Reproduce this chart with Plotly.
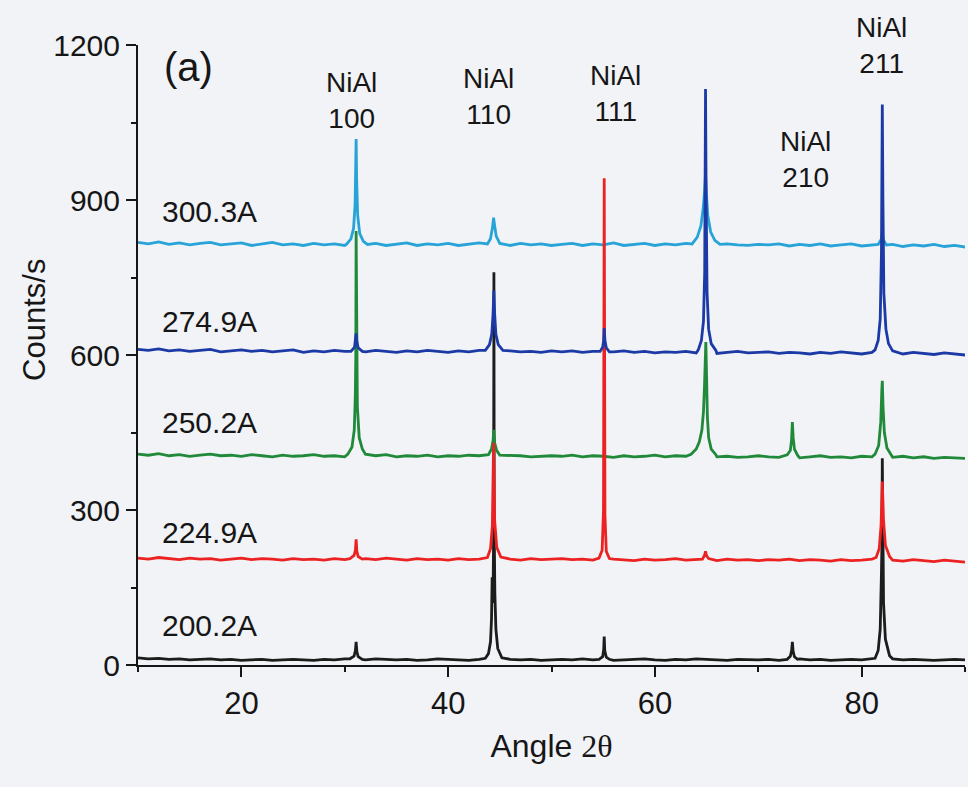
import plotly.graph_objects as go

# ---- data (2-theta angle in degrees, counts/s) ----
angles_base = list(range(10, 91))

black_base = [14, 12, 13, 11, 12, 10, 11, 12, 10, 11, 9, 10, 11, 9, 10, 11, 10, 9, 11, 10, 12,
              11, 10, 12, 11, 10, 11, 9, 10, 12, 11, 10, 9, 11, 10, 12, 11, 10, 11, 9, 10,
              11, 10, 12, 10, 11, 9, 10, 11, 12, 10, 9, 11, 10, 12, 11, 10, 9, 11, 10, 10,
              11, 9, 10, 12, 10, 11, 9, 10, 11, 10, 12, 11, 9, 10, 11, 10, 9, 10, 11, 10]
red_base = [207, 205, 208, 206, 204, 207, 205, 206, 203, 205, 207, 204, 206, 205, 203, 206, 204, 205, 203, 206, 204,
            205, 206, 204, 207, 205, 203, 206, 204, 205, 203, 206, 204, 205, 207, 204, 205, 203, 206, 204, 205,
            206, 204, 205, 203, 206, 205, 204, 202, 205, 203, 204, 206, 203, 205, 204, 202, 205, 203, 204, 202,
            204, 203, 205, 202, 204, 203, 201, 204, 202, 203, 205, 202, 203, 201, 204, 202, 200, 203, 201, 199]
green_base = [408, 406, 409, 405, 407, 404, 406, 408, 405, 406, 404, 407, 405, 403, 406, 404, 405, 407, 404, 405, 403,
              406, 404, 405, 407, 403, 405, 404, 406, 403, 405, 404, 406, 405, 403, 404, 406, 405, 403, 404, 405,
              404, 406, 403, 405, 404, 402, 405, 403, 404, 406, 403, 405, 404, 402, 405, 403, 404, 402, 403, 405,
              403, 402, 404, 401, 403, 405, 402, 403, 401, 404, 403, 401, 402, 404, 401, 403, 400, 402, 401, 400]
blue_base = [611, 609, 612, 608, 610, 607, 609, 611, 606, 608, 610, 607, 609, 606, 608, 610, 605, 608, 606, 609, 607,
             608, 606, 609, 607, 605, 608, 606, 609, 607, 605, 608, 606, 609, 607, 605, 608, 606, 607, 605, 608,
             606, 608, 605, 607, 604, 606, 608, 605, 607, 604, 606, 605, 607, 604, 606, 603, 605, 607, 604, 605,
             606, 603, 605, 604, 602, 605, 603, 606, 604, 602, 605, 603, 604, 602, 605, 603, 601, 604, 602, 600]
cyan_base = [818, 815, 819, 814, 817, 813, 816, 818, 813, 815, 817, 812, 815, 818, 813, 815, 812, 816, 813, 815, 812,
             815, 813, 816, 812, 814, 817, 812, 815, 813, 816, 812, 815, 817, 813, 814, 812, 816, 813, 815, 812,
             814, 816, 812, 815, 813, 817, 812, 814, 816, 812, 815, 813, 816, 812, 814, 811, 815, 813, 812, 814,
             813, 815, 811, 814, 812, 815, 811, 813, 815, 811, 813, 812, 814, 810, 813, 811, 814, 810, 812, 809]

black_peaks = [
    [(30.5, 12), (30.9, 17), (31.03, 28), (31.1, 45), (31.17, 26), (31.3, 16), (31.7, 11)],
    [(43.6, 13), (43.9, 22), (44.1, 45), (44.2, 90), (44.26, 170), (44.31, 120), (44.36, 160),
     (44.4, 250), (44.43, 760), (44.46, 260), (44.52, 140), (44.62, 70), (44.8, 32), (45.2, 14)],
    [(54.6, 11), (54.95, 16), (55.05, 30), (55.1, 55), (55.15, 28), (55.3, 15), (55.6, 11)],
    [(72.8, 11), (73.1, 17), (73.23, 28), (73.3, 45), (73.37, 27), (73.5, 16), (73.8, 11)],
    [(81.3, 13), (81.6, 28), (81.8, 70), (81.92, 180), (81.97, 240), (82.0, 400), (82.04, 235),
     (82.12, 120), (82.3, 50), (82.7, 18), (83.0, 12)],
]
red_peaks = [
    [(30.5, 206), (30.9, 212), (31.03, 222), (31.1, 243), (31.17, 220), (31.3, 210), (31.7, 205)],
    [(43.8, 208), (44.1, 225), (44.28, 270), (44.4, 430), (44.5, 280), (44.7, 228), (45.1, 209)],
    [(54.6, 207), (54.9, 222), (55.03, 300), (55.1, 942), (55.17, 290), (55.3, 220), (55.6, 206)],
    [(64.6, 205), (64.8, 212), (64.9, 220), (65.0, 211), (65.2, 206)],
    [(81.4, 208), (81.7, 225), (81.88, 270), (82.0, 355), (82.1, 285), (82.3, 232), (82.7, 210)],
]
green_peaks = [
    [(30.3, 408), (30.7, 422), (30.92, 455), (31.02, 520), (31.07, 600), (31.1, 840), (31.14, 610),
     (31.22, 500), (31.4, 440), (31.7, 418), (32.0, 408)],
    [(43.9, 407), (44.2, 418), (44.35, 435), (44.42, 455), (44.5, 430), (44.7, 415), (45.0, 406)],
    [(63.5, 408), (64.0, 418), (64.3, 432), (64.55, 455), (64.7, 490), (64.8, 540), (64.88, 600),
     (64.93, 625), (65.0, 560), (65.08, 480), (65.2, 440), (65.45, 418), (65.9, 407)],
    [(72.8, 407), (73.1, 415), (73.22, 435), (73.3, 470), (73.38, 440), (73.5, 418), (73.8, 406)],
    [(81.3, 408), (81.65, 425), (81.85, 470), (81.95, 530), (82.0, 550), (82.07, 500), (82.2, 450),
     (82.45, 420), (82.9, 406)],
]
blue_peaks = [
    [(30.6, 607), (30.95, 615), (31.05, 628), (31.1, 642), (31.17, 626), (31.3, 614), (31.7, 607)],
    [(43.6, 609), (44.0, 620), (44.22, 640), (44.35, 680), (44.42, 725), (44.5, 680), (44.62, 640),
     (44.85, 620), (45.3, 609)],
    [(54.7, 607), (54.95, 615), (55.05, 628), (55.1, 652), (55.17, 628), (55.3, 614), (55.6, 606)],
    [(64.2, 610), (64.5, 628), (64.7, 665), (64.82, 760), (64.9, 1115), (64.96, 900), (65.05, 720),
     (65.2, 650), (65.45, 622), (65.9, 609)],
    [(81.3, 610), (81.6, 628), (81.8, 670), (81.92, 800), (82.0, 1085), (82.06, 900), (82.15, 720),
     (82.35, 650), (82.6, 622), (83.0, 608)],
]
cyan_peaks = [
    [(30.2, 815), (30.6, 825), (30.85, 845), (31.0, 890), (31.07, 950), (31.1, 1018), (31.15, 940),
     (31.25, 870), (31.45, 835), (31.8, 820), (32.2, 814)],
    [(43.8, 815), (44.1, 825), (44.3, 848), (44.4, 866), (44.5, 850), (44.65, 830), (45.0, 816)],
    [(63.6, 815), (64.1, 828), (64.45, 850), (64.68, 885), (64.82, 920), (64.9, 950), (64.98, 915),
     (65.12, 870), (65.4, 838), (65.8, 822), (66.3, 814)],
    [(81.6, 814), (81.9, 824), (82.0, 836), (82.1, 823), (82.4, 813)],
]

series_names = ["300.3A", "274.9A", "250.2A", "224.9A", "200.2A"]
label_y = [877, 664, 470, 257, 77]
reflections = ["100", "110", "111", "200", "210", "211"]
refl_x = [30.7, 43.9, 56.2, 65.1, 74.6, 81.9]
refl_y = [1092, 1101, 1107, 1202, 979, 1200]


def build(base, peaks):
    pts = list(zip(angles_base, base))
    for pk in peaks:
        lo = min(p[0] for p in pk)
        hi = max(p[0] for p in pk)
        pts = [p for p in pts if not (lo <= p[0] <= hi)]
        pts += pk
    pts.sort()
    return [p[0] for p in pts], [p[1] for p in pts]


series = {
    "300.3A": (cyan_base, cyan_peaks, "#27a3d8"),
    "274.9A": (blue_base, blue_peaks, "#1b3aa6"),
    "250.2A": (green_base, green_peaks, "#20893a"),
    "224.9A": (red_base, red_peaks, "#ec2222"),
    "200.2A": (black_base, black_peaks, "#1c1c1c"),
}
draw_order = ["300.3A", "200.2A", "250.2A", "224.9A", "274.9A"]

fig = go.Figure()
for name in draw_order:
    base, peaks, col = series[name]
    xs, ys = build(base, peaks)
    fig.add_trace(go.Scatter(x=xs, y=ys, mode="lines", name=name,
                             line=dict(color=col, width=2.8), hoverinfo="skip"))

font_main = "Liberation Sans, Arial, sans-serif"
ink = "#161616"
bg = "#f2f3f6"

for name, y in zip(series_names, label_y):
    fig.add_annotation(x=12.1, y=y, text=name, showarrow=False, xanchor="left", yanchor="middle",
                       font=dict(family=font_main, size=30, color=ink))
for r, x, y in zip(reflections, refl_x, refl_y):
    fig.add_annotation(x=x, y=y, text="NiAl<br>" + r, showarrow=False, xanchor="center", yanchor="middle",
                       font=dict(family=font_main, size=28, color=ink))
fig.add_annotation(x=14.9, y=1158, text="(a)", showarrow=False, xanchor="center", yanchor="middle",
                   font=dict(family=font_main, size=40, color=ink))
fig.add_annotation(x=-0.1245, xref="paper", y=668, yref="y", text="Counts/s", textangle=-90,
                   showarrow=False, xanchor="center", yanchor="middle",
                   font=dict(family=font_main, size=31, color=ink))

fig.update_layout(
    width=968, height=787,
    margin=dict(l=138, r=3, t=45, b=122),
    paper_bgcolor=bg, plot_bgcolor=bg,
    showlegend=False,
    font=dict(family=font_main, size=30, color=ink),
)
fig.update_xaxes(
    range=[10, 90], tick0=0, dtick=20, ticks="outside", ticklen=10, tickwidth=2, tickcolor=ink,
    showline=True, linecolor=ink, linewidth=2, showgrid=False, zeroline=False,
    minor=dict(tick0=0, dtick=10, ticks="outside", ticklen=5, tickwidth=2, tickcolor=ink, showgrid=False),
    tickfont=dict(size=31),
    title=dict(text="Angle <span style='font-family:Liberation Serif'>2θ</span>", standoff=14,
               font=dict(size=32)),
)
fig.update_yaxes(
    range=[0, 1200], tick0=0, dtick=300, ticks="outside", ticklen=10, tickwidth=2, tickcolor=ink,
    showline=True, linecolor=ink, linewidth=2, showgrid=False, zeroline=False,
    minor=dict(tick0=0, dtick=150, ticks="outside", ticklen=5, tickwidth=2, tickcolor=ink, showgrid=False),
    tickfont=dict(size=30),
)

fig.write_html("out.html")
